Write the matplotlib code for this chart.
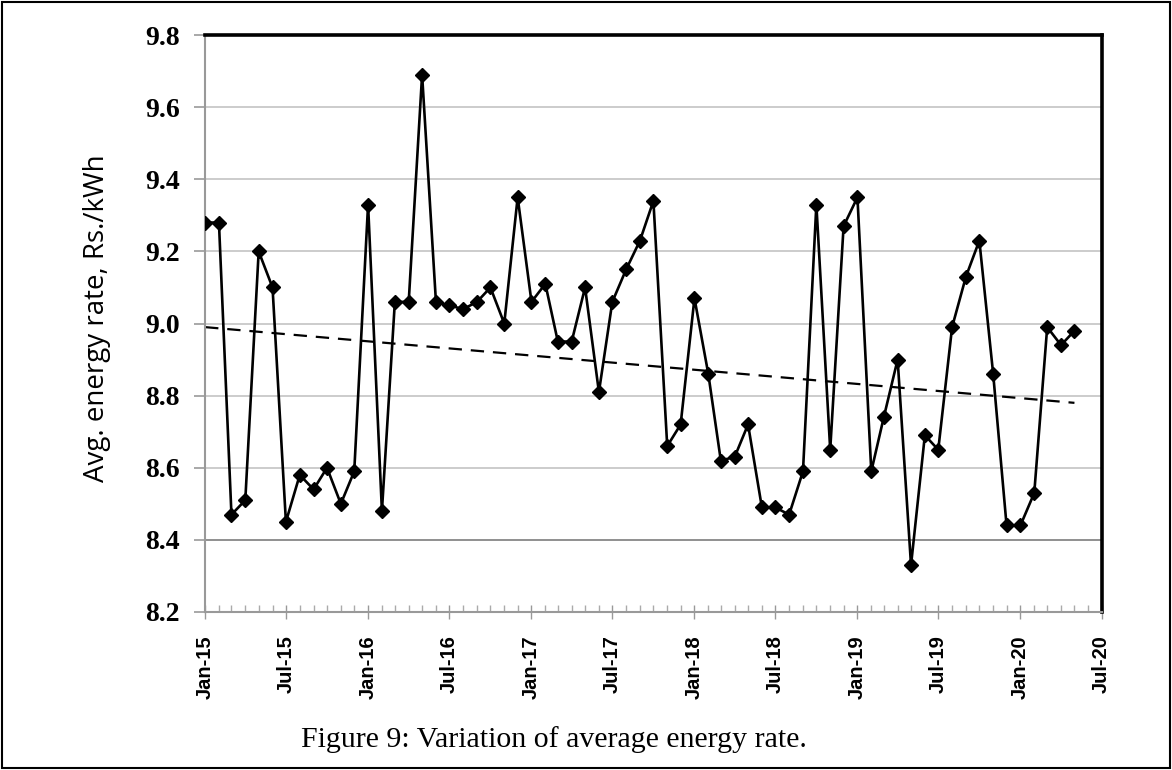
import numpy as np
import pandas as pd
import matplotlib.pyplot as plt
import matplotlib.dates as mdates
from matplotlib.patches import Rectangle

# Monthly average energy rate, Jan 2015 to May 2020 (Rs./kWh)
months = pd.date_range("2015-01-01", periods=65, freq="MS")
rate = [
    9.28, 9.28, 8.47, 8.51, 9.20, 9.10, 8.45, 8.58, 8.54, 8.60, 8.50, 8.59,
    9.33, 8.48, 9.06, 9.06, 9.69, 9.06, 9.05, 9.04, 9.06, 9.10, 9.00, 9.35,
    9.06, 9.11, 8.95, 8.95, 9.10, 8.81, 9.06, 9.15, 9.23, 9.34, 8.66, 8.72,
    9.07, 8.86, 8.62, 8.63, 8.72, 8.49, 8.49, 8.47, 8.59, 9.33, 8.65, 9.27,
    9.35, 8.59, 8.74, 8.90, 8.33, 8.69, 8.65, 8.99, 9.13, 9.23, 8.86, 8.44,
    8.44, 8.53, 8.99, 8.94, 8.98,
]
# linear trend line, value at first and last month
trend_ends = [8.99, 8.78]
y_ticks = [8.2, 8.4, 8.6, 8.8, 9.0, 9.2, 9.4, 9.6, 9.8]

fig = plt.figure(figsize=(11.72, 7.7), dpi=100)
ax = fig.add_axes([0.175, 0.2052, 0.765, 0.7493])

ax.plot([months[0], months[-1]], trend_ends, color="black", linestyle=(0, (6, 4)),
        linewidth=1.6, zorder=2)

ax.plot(months, rate, color="black", linewidth=1.9, marker="D", markersize=7.5,
        markerfacecolor="black", markeredgecolor="black", zorder=3)

ax.set_xlim(pd.Timestamp("2015-01-01"), pd.Timestamp("2020-07-01"))
ax.set_ylim(8.2, 9.8)
ax.set_yticks(y_ticks)
ax.set_yticklabels([f"{v:.1f}" for v in y_ticks], fontfamily="Liberation Serif",
                   fontweight="bold", fontsize=20)

ax.xaxis.set_major_locator(mdates.MonthLocator(bymonth=[1, 7]))
ax.xaxis.set_major_formatter(mdates.DateFormatter("%b-%y"))
ax.xaxis.set_minor_locator(mdates.MonthLocator())
for lab in ax.get_xticklabels():
    lab.set_rotation(90)
    lab.set_fontfamily("Liberation Sans")
    lab.set_fontweight("bold")
    lab.set_fontsize(14.5)

ax.grid(axis="y", color="#c4c4c4", linewidth=1.2)
ax.axhline(8.4, color="#8c8c8c", linewidth=1.3, zorder=1)
ax.set_axisbelow(True)
ax.tick_params(axis="y", direction="out", length=8, width=1.2, color="#999999", pad=10)
ax.tick_params(axis="x", which="major", direction="inout", length=10, width=1, color="#999999", pad=12)
ax.tick_params(axis="x", which="minor", direction="in", length=5, width=1, color="#aaaaaa")

ax.spines["top"].set_linewidth(2.6)
ax.spines["right"].set_linewidth(2.6)
ax.spines["left"].set_color("#999999")
ax.spines["left"].set_linewidth(1.5)
ax.spines["bottom"].set_color("#999999")
ax.spines["bottom"].set_linewidth(1.5)

# axis title placed by hand, reading upward from just above the 8.6 level
fig.text(0.083, 1 - 482 / 770, "Avg. energy rate, Rs./kWh", rotation=90, ha="center",
         va="bottom", fontfamily="Open Sans", fontsize=20)

fig.text(0.473, 0.039, "Figure 9: Variation of average energy rate.", ha="center", va="center",
         fontfamily="Liberation Serif", fontsize=21.5)

fig.patches.append(Rectangle((0.002, 0.002), 0.996, 0.995, transform=fig.transFigure,
                             fill=False, edgecolor="black", linewidth=1.5))

fig.savefig("out.png", dpi=100)
